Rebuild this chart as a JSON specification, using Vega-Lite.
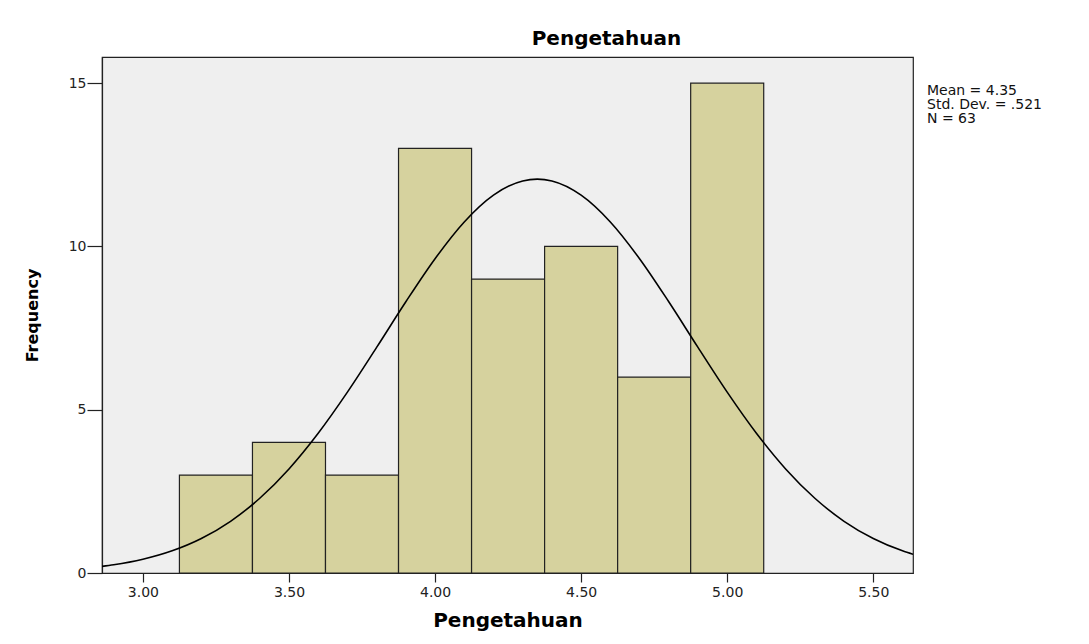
{
  "$schema": "https://vega.github.io/schema/vega-lite/v6.json",
  "width": 811,
  "height": 516,
  "autosize": {"type": "none"},
  "padding": {"left": 102, "top": 57, "right": 176, "bottom": 71},
  "background": "white",
  "view": {"fill": "#efefef", "stroke": "#222222", "strokeWidth": 1.2},
  "config": {
    "view": {"fill": "#efefef", "stroke": "#222222", "strokeWidth": 1.2},
    "font": "DejaVu Sans"
  },
  "title": {
    "text": "Pengetahuan",
    "font": "DejaVu Sans",
    "fontSize": 20,
    "fontWeight": "bold",
    "color": "black",
    "anchor": "middle",
    "dx": 99,
    "offset": 8
  },
  "layer": [
    {
      "data": {
        "values": [
          {"bin_start": 3.125, "bin_end": 3.375, "count": 3},
          {"bin_start": 3.375, "bin_end": 3.625, "count": 4},
          {"bin_start": 3.625, "bin_end": 3.875, "count": 3},
          {"bin_start": 3.875, "bin_end": 4.125, "count": 13},
          {"bin_start": 4.125, "bin_end": 4.375, "count": 9},
          {"bin_start": 4.375, "bin_end": 4.625, "count": 10},
          {"bin_start": 4.625, "bin_end": 4.875, "count": 6},
          {"bin_start": 4.875, "bin_end": 5.125, "count": 15}
        ]
      },
      "mark": {"type": "rect", "fill": "#d6d29e", "stroke": "#222222", "strokeWidth": 1.2},
      "encoding": {
        "x": {
          "field": "bin_start",
          "type": "quantitative",
          "title": "Pengetahuan",
          "scale": {"domain": [2.86, 5.636], "nice": false, "zero": false},
          "axis": {
            "values": [3, 3.5, 4, 4.5, 5, 5.5],
            "format": ".2f",
            "grid": false,
            "labelFontSize": 14,
            "labelColor": "#222222",
            "labelPadding": 3,
            "tickSize": 9,
            "tickColor": "#222222",
            "tickWidth": 1.2,
            "domainColor": "#222222",
            "domainWidth": 1.2,
            "titleFontSize": 20,
            "titleFontWeight": "bold",
            "titleColor": "black",
            "titlePadding": 11
          }
        },
        "x2": {"field": "bin_end"},
        "y": {
          "field": "count",
          "type": "quantitative",
          "title": "Frequency",
          "scale": {"domain": [0, 15.8], "nice": false},
          "axis": {
            "values": [0, 5, 10, 15],
            "format": "d",
            "grid": false,
            "labelFontSize": 14,
            "labelColor": "#222222",
            "labelPadding": 1,
            "tickSize": 15,
            "tickColor": "#222222",
            "tickWidth": 1.2,
            "domainColor": "#222222",
            "domainWidth": 1.2,
            "titleFontSize": 16,
            "titleFontWeight": "bold",
            "titleColor": "black",
            "titlePadding": 28
          }
        },
        "y2": {"datum": 0}
      }
    },
    {
      "data": {
        "values": [
          {"x": 2.86, "y": 0.202},
          {"x": 2.9, "y": 0.251},
          {"x": 3.0, "y": 0.420},
          {"x": 3.1, "y": 0.678},
          {"x": 3.2, "y": 1.055},
          {"x": 3.3, "y": 1.583},
          {"x": 3.4, "y": 2.288},
          {"x": 3.5, "y": 3.187},
          {"x": 3.6, "y": 4.279},
          {"x": 3.7, "y": 5.538},
          {"x": 3.8, "y": 6.908},
          {"x": 3.9, "y": 8.305},
          {"x": 4.0, "y": 9.624},
          {"x": 4.1, "y": 10.749},
          {"x": 4.2, "y": 11.570},
          {"x": 4.3, "y": 12.005},
          {"x": 4.35, "y": 12.060},
          {"x": 4.4, "y": 12.005},
          {"x": 4.5, "y": 11.570},
          {"x": 4.6, "y": 10.749},
          {"x": 4.7, "y": 9.624},
          {"x": 4.8, "y": 8.305},
          {"x": 4.9, "y": 6.908},
          {"x": 5.0, "y": 5.538},
          {"x": 5.1, "y": 4.279},
          {"x": 5.2, "y": 3.187},
          {"x": 5.3, "y": 2.288},
          {"x": 5.4, "y": 1.583},
          {"x": 5.5, "y": 1.055},
          {"x": 5.6, "y": 0.678},
          {"x": 5.636, "y": 0.573}
        ]
      },
      "mark": {"type": "line", "color": "black", "strokeWidth": 1.6, "interpolate": "monotone", "clip": true},
      "encoding": {
        "x": {"field": "x", "type": "quantitative"},
        "y": {"field": "y", "type": "quantitative"}
      }
    },
    {
      "data": {
        "values": [
          {"stat": "Mean = 4.35"},
          {"stat": "Std. Dev. = .521"},
          {"stat": "N = 63"}
        ]
      },
      "mark": {"type": "point", "opacity": 0},
      "encoding": {
        "color": {
          "field": "stat",
          "type": "nominal",
          "scale": {"domain": ["Mean = 4.35", "Std. Dev. = .521", "N = 63"], "range": ["black", "black", "black"]},
          "legend": {
            "orient": "right",
            "title": null,
            "symbolSize": 0,
            "symbolOpacity": 0,
            "symbolStrokeWidth": 0,
            "labelOffset": 0,
            "labelFontSize": 14,
            "labelFont": "DejaVu Sans",
            "labelColor": "#111111",
            "labelLimit": 300,
            "rowPadding": 0,
            "padding": 27,
            "offset": -27
          }
        }
      }
    }
  ]
}
